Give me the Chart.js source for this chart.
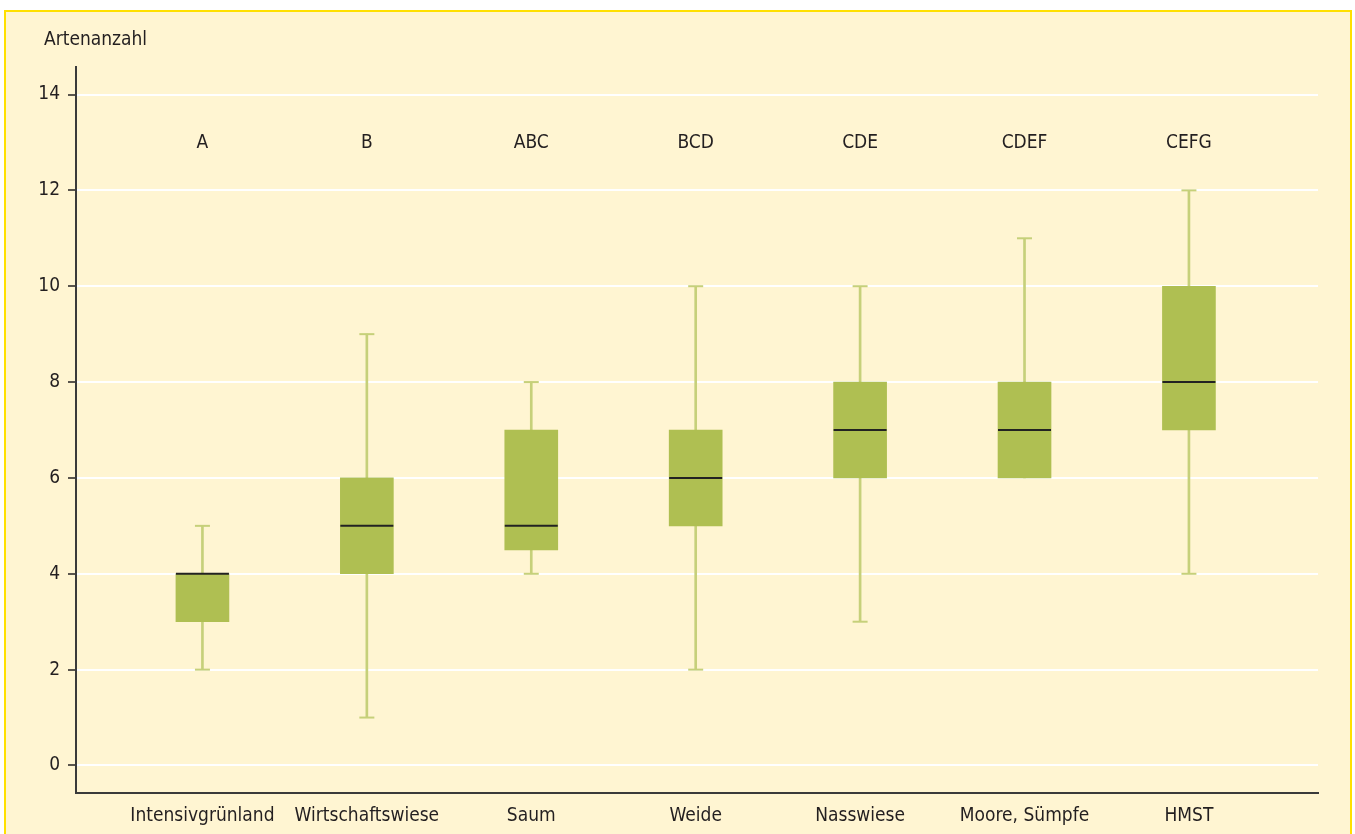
<!DOCTYPE html>
<html>
<head>
<meta charset="utf-8">
<script src="https://cdn.jsdelivr.net/npm/chart.js@4/dist/chart.umd.min.js"></script>
<style>
  html, body { margin: 0; padding: 0; background: #ffffff; width: 1355px; height: 834px; overflow: hidden; }
  #frame { position: absolute; left: 4px; top: 10px; width: 1348px; height: 840px; box-sizing: border-box;
           border: 2px solid #FFE000; background: #FFF5D2; }
  #c { position: absolute; left: 0; top: 0; }
</style>
</head>
<body>
<div id="frame"></div>
<canvas id="c" width="1355" height="834"></canvas>
<script>
// ---- data ----
const categories = ["Intensivgrünland", "Wirtschaftswiese", "Saum", "Weide", "Nasswiese", "Moore, Sümpfe", "HMST"];
const groupLetters = ["A", "B", "ABC", "BCD", "CDE", "CDEF", "CEFG"];
const minimums = [2, 1, 4, 2, 3, 6, 4];
const quartile1 = [3, 4, 4.5, 5, 6, 6, 7];
const medians   = [4, 5, 5, 6, 7, 7, 8];
const quartile3 = [4, 6, 7, 7, 8, 8, 10];
const maximums  = [5, 9, 8, 10, 10, 11, 12];
const yTickValues = [0, 2, 4, 6, 8, 10, 12, 14];
const yAxisTitle = "Artenanzahl";
const letterLevel = 13;

const FONT = "'DejaVu Sans Condensed', 'Liberation Sans', Arial, sans-serif";
const FS = 19;
const TEXT = "#231F20";
const BOX = "#AFBF52";
const WHISKER = "#C6D07A";

const boxData = categories.map((c, i) => ({ x: i, y: [quartile1[i], quartile3[i]] }));
const whiskerData = categories.map((c, i) => ({ x: i, y: [minimums[i], maximums[i]] }));
const capData = [];
categories.forEach((c, i) => {
  if (minimums[i] < quartile1[i]) capData.push({ x: i, y: minimums[i] });
  if (maximums[i] > quartile3[i]) capData.push({ x: i, y: maximums[i] });
});
const medianData = categories.map((c, i) => ({ x: i, y: medians[i] }));

const textPlugin = {
  id: 'texts',
  afterDatasetsDraw(chart) {
    const { ctx, scales } = chart;
    ctx.save();
    ctx.font = FS + "px " + FONT;
    ctx.fillStyle = TEXT;
    ctx.textAlign = 'center';
    ctx.textBaseline = 'middle';
    groupLetters.forEach((t, i) => {
      ctx.fillText(t, scales.x.getPixelForValue(i), scales.y.getPixelForValue(letterLevel) + 1);
    });
    ctx.textAlign = 'left';
    ctx.textBaseline = 'alphabetic';
    ctx.fillText(yAxisTitle, 44, 45);
    ctx.restore();
  }
};

new Chart(document.getElementById('c'), {
  type: 'bar',
  data: {
    datasets: [
      { type: 'scatter', data: medianData, pointStyle: 'line', radius: 26.5, hoverRadius: 26.5,
        borderColor: '#222222', backgroundColor: '#222222', borderWidth: 2, order: 0 },
      { type: 'bar', data: boxData, backgroundColor: BOX, barThickness: 53, grouped: false, order: 1 },
      { type: 'bar', data: whiskerData, backgroundColor: WHISKER, barThickness: 2, grouped: false, order: 3 },
      { type: 'scatter', data: capData, pointStyle: 'line', radius: 7.5, hoverRadius: 7.5,
        borderColor: WHISKER, backgroundColor: WHISKER, borderWidth: 2, order: 2 }
    ]
  },
  options: {
    responsive: false,
    animation: false,
    events: [],
    layout: { padding: { left: 0, top: 67, right: 37, bottom: 0 } },
    plugins: { legend: { display: false }, tooltip: { enabled: false }, title: { display: false } },
    scales: {
      x: {
        type: 'linear',
        offset: false,
        bounds: 'data',
        min: -0.769, max: 6.785,
        afterFit(s) { s.height = 41; },
        afterBuildTicks(s) { s.ticks = categories.map((c, i) => ({ value: i })); },
        ticks: {
          callback: (v) => categories[v] ?? '',
          font: { family: FONT, size: FS }, color: TEXT, padding: 12, maxRotation: 0, autoSkip: false
        },
        grid: { display: false, drawTicks: false },
        border: { display: true, color: '#3a3a3a', width: 2 }
      },
      y: {
        type: 'linear',
        min: -0.574, max: 14.574,
        afterFit(s) { s.width = 76; },
        afterBuildTicks(s) { s.ticks = yTickValues.map(v => ({ value: v })); },
        ticks: { font: { family: FONT, size: FS }, color: TEXT, padding: 8 },
        grid: { color: '#FFFFFF', lineWidth: 2, tickColor: '#231F20', tickLength: 8, tickWidth: 1.5 },
        border: { display: true, color: '#3a3a3a', width: 2 }
      }
    }
  },
  plugins: [textPlugin]
});
</script>
</body>
</html>
